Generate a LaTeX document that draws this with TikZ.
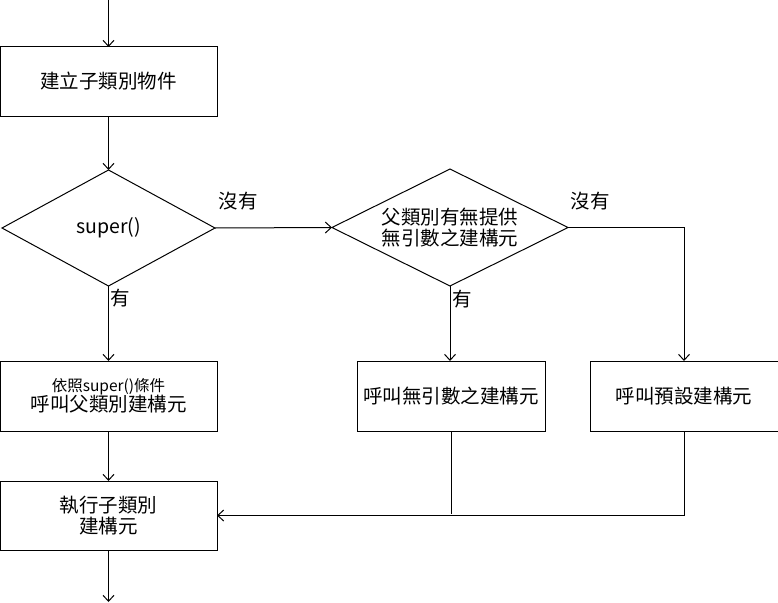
\documentclass[tikz,border=0pt]{standalone}
\usepackage{fontspec}
\setmainfont{Noto Sans CJK TC}
\usetikzlibrary{shapes.geometric,arrows.meta}
\begin{document}
\begin{tikzpicture}[x=1pt,y=-1pt,
  every node/.style={font=\fontsize{19.5}{23}\selectfont},
  box/.style={draw,rectangle,inner sep=0pt,outer sep=0pt,line width=1pt,align=center},
  dia/.style={draw,diamond,inner sep=0pt,outer sep=0pt,line width=1pt,align=center},
  conn/.style={line width=1pt,-{Straight Barb[length=6pt,width=11pt,line width=1pt]}},
  plain/.style={line width=1pt},
  lbl/.style={inner sep=0pt,align=center}]
\useasboundingbox (0,0) rectangle (778,602);
\coordinate (top) at (108.5,0);
\coordinate (bot) at (108.5,602);
\node[box,minimum width=217pt,minimum height=69pt] (b1) at (108.5,81.5) {建立子類別物件};
\node[dia,minimum width=213pt,minimum height=116pt] (d1) at (108.5,228) {super()};
\node[dia,minimum width=236pt,minimum height=117pt] (d2) at (450,227.5) {};
\node[lbl] (d2t) at (d2.center) {父類別有無提供\\[-2pt]無引數之建構元};
\node[box,minimum width=217pt,minimum height=70pt] (b2) at (108.5,396) {{\fontsize{15.5}{18}\selectfont 依照super()條件}\\[-3pt]呼叫父類別建構元};
\node[box,minimum width=188pt,minimum height=70pt] (b3) at (451,396) {呼叫無引數之建構元};
\node[box,minimum width=188pt,minimum height=70pt] (b4) at (684,396) {呼叫預設建構元};
\node[box,minimum width=217pt,minimum height=69pt] (b5) at (108.5,515.5) {執行子類別\\[-2pt]建構元};
\node[lbl] (l1) at (238,201) {沒有};
\node[lbl] (l2) at (590,201) {沒有};
\node[lbl] (l3) at (120,298) {有};
\node[lbl] (l4) at (462,299) {有};
\draw[conn] (top) -- (b1.north);
\draw[conn] (b1.south) -- (d1.north);
\draw[conn] (d1.east) -- (d2.west);
\draw[conn] (d1.south) -- (b2.north);
\draw[conn] (d2.south) -- (d2.south |- b3.north);
\draw[conn] (d2.east) -- (b4.north |- d2.east) -- (b4.north);
\draw[conn] (b2.south) -- (b5.north);
\draw[plain] (b3.south) -- ([yshift=1.5pt]b3.south |- b5.east);
\draw[conn] (b4.south) -- (b4.south |- b5.east) -- (b5.east);
\draw[conn] (b5.south) -- (bot);
\end{tikzpicture}
\end{document}
